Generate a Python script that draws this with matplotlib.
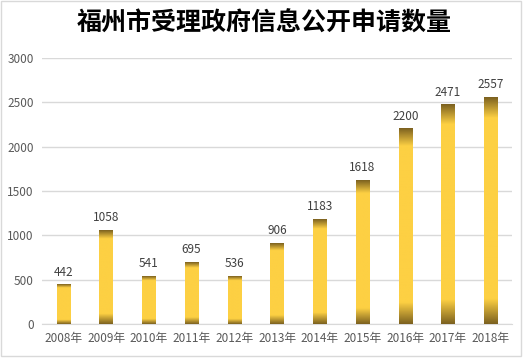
import numpy as np
import matplotlib.pyplot as plt
from matplotlib.colors import LinearSegmentedColormap
from matplotlib.patches import Rectangle

plt.rcParams['font.family'] = ['Noto Sans CJK SC', 'DejaVu Sans']

years = ["2008年", "2009年", "2010年", "2011年", "2012年", "2013年",
         "2014年", "2015年", "2016年", "2017年", "2018年"]
counts = [442, 1058, 541, 695, 536, 906, 1183, 1618, 2200, 2471, 2557]
yticks = [0, 500, 1000, 1500, 2000, 2500, 3000]
title = "福州市受理政府信息公开申请数量"

dark = "#7d6220"
gold = "#fdd043"
cmap = LinearSegmentedColormap.from_list(
    "goldbar",
    [(0.0, dark), (0.11, gold), (0.91, gold), (1.0, dark)]
)

fig = plt.figure(figsize=(5.28, 3.58), dpi=100)
ax = fig.add_axes([0.0795, 0.095, 0.8905, 0.743])

width = 0.31
grad = np.linspace(0, 1, 256).reshape(-1, 1)
for i, v in enumerate(counts):
    ax.imshow(grad, cmap=cmap, origin="lower", aspect="auto",
              extent=[i - width / 2, i + width / 2, 0, v], zorder=3)
    ax.text(i, v + 70, str(v), ha="center", va="bottom",
            fontsize=8.5, color="#404040", zorder=4)

ax.set_xlim(-0.5, len(counts) - 0.5)
ax.set_ylim(0, 3000)
ax.set_xticks(range(len(years)))
ax.set_xticklabels(years, fontsize=8.5, color="#595959")
ax.set_yticks(yticks)
ax.set_yticklabels([str(t) for t in yticks], fontsize=8.5, color="#595959")
ax.tick_params(length=0, pad=6)
ax.yaxis.grid(True, color="#d9d9d9", linewidth=1, zorder=0)
ax.set_axisbelow(True)
for s in ["top", "right", "left"]:
    ax.spines[s].set_visible(False)
ax.spines["bottom"].set_color("#d9d9d9")

fig.text(0.5, 0.935, title, ha="center", va="center",
         fontsize=18, fontweight="bold", color="black")

# chart frame
fig.patches.append(Rectangle((0.002, 0.006), 0.984, 0.99, transform=fig.transFigure,
                             fill=False, edgecolor="#d9d9d9", linewidth=1))

fig.savefig("out.png", dpi=100)
